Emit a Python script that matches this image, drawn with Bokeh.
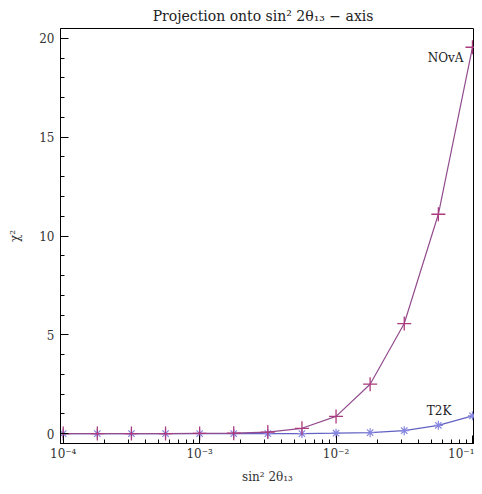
from bokeh.plotting import figure
from bokeh.models import FixedTicker, CustomJSTickFormatter, Range1d, Label
from bokeh.embed import file_html
from bokeh.resources import INLINE

sin2_2theta13 = [1e-4, 1.778e-4, 3.162e-4, 5.623e-4, 1e-3, 1.778e-3, 3.162e-3,
                 5.623e-3, 1e-2, 1.778e-2, 3.162e-2, 5.623e-2, 1e-1]
chi2_nova = [0.0, 0.0, 0.0, 0.0, 0.01, 0.02, 0.08, 0.27, 0.87, 2.5, 5.57, 11.1, 19.55]
chi2_t2k = [0.0, 0.0, 0.0, 0.0, 0.0, 0.0, 0.0, 0.0, 0.02, 0.05, 0.15, 0.42, 0.9]

x_major = [1e-4, 1e-3, 1e-2, 1e-1]
x_minor = [m * 10.0 ** e for e in (-4, -3, -2) for m in range(2, 10)]
y_major = [0, 5, 10, 15, 20]
y_minor = list(range(0, 21))

SERIF = "DejaVu Serif"

p = figure(width=474, height=486, x_axis_type="log", output_backend="svg",
           toolbar_location=None,
           x_range=Range1d(10 ** -4.02, 10 ** -0.985),
           y_range=Range1d(-0.5, 20.5),
           min_border_left=60, min_border_right=0, min_border_bottom=43,
           min_border_top=8)

p.title.text = "Projection  onto  sin² 2θ₁₃ − axis"
p.title.align = "center"
p.title.text_font = SERIF
p.title.text_font_style = "normal"
p.title.text_font_size = "14px"
p.title.text_color = "#222222"
p.title.offset = 0

p.grid.visible = False
p.outline_line_color = "black"
p.outline_line_width = 1
p.background_fill_color = "white"
p.border_fill_color = "white"

p.xaxis.ticker = FixedTicker(ticks=x_major, minor_ticks=x_minor)
p.xaxis.formatter = CustomJSTickFormatter(code="""
const sup = {'-':'⁻','0':'⁰','1':'¹','2':'²','3':'³','4':'⁴','5':'⁵','6':'⁶','7':'⁷','8':'⁸','9':'⁹'};
const e = Math.round(Math.log10(tick)).toString();
return '10' + e.split('').map(c => sup[c]).join('');
""")
p.yaxis.ticker = FixedTicker(ticks=y_major, minor_ticks=y_minor)

for ax in (p.xaxis[0], p.yaxis[0]):
    ax.axis_line_color = "black"
    ax.major_tick_in = 8
    ax.major_tick_out = 0
    ax.minor_tick_in = 4
    ax.minor_tick_out = 0
    ax.major_tick_line_color = "black"
    ax.minor_tick_line_color = "black"
    ax.major_label_text_font = SERIF
    ax.major_label_text_font_size = "12px"
    ax.major_label_text_color = "#333333"
    ax.axis_label_text_font = SERIF
    ax.axis_label_text_font_style = "normal"
    ax.axis_label_text_font_size = "12px"
    ax.axis_label_text_color = "#333333"

p.xaxis.major_label_standoff = 3
p.yaxis.major_label_standoff = 6
p.xaxis.axis_label = "sin² 2θ₁₃"
p.xaxis.axis_label_standoff = 6
p.yaxis.axis_label = "χ²"
p.yaxis.axis_label_standoff = 14

nova_line = "#924c8e"
nova_mark = "#ab3a7e"
t2k_line = "#6262c4"
t2k_mark = "#8686e0"

p.line(sin2_2theta13, chi2_t2k, line_color=t2k_line, line_width=1.2)
p.scatter(sin2_2theta13, chi2_t2k, marker="asterisk", size=9,
          line_color=t2k_mark, line_width=1.2)
p.line(sin2_2theta13, chi2_nova, line_color=nova_line, line_width=1.2)
p.scatter(sin2_2theta13, chi2_nova, marker="cross", size=14,
          line_color=nova_mark, line_width=1.3)

p.add_layout(Label(x=sin2_2theta13[-1], y=chi2_nova[-1], text="NOvA",
                   x_offset=-9, y_offset=-11, text_align="right",
                   text_baseline="middle", text_font=SERIF,
                   text_font_size="12px", text_color="#222222"))
p.add_layout(Label(x=sin2_2theta13[-1], y=chi2_t2k[-1], text="T2K",
                   x_offset=-21, y_offset=5, text_align="right",
                   text_baseline="middle", text_font=SERIF,
                   text_font_size="12px", text_color="#222222"))

open("out.html", "w").write(file_html(p, INLINE))
